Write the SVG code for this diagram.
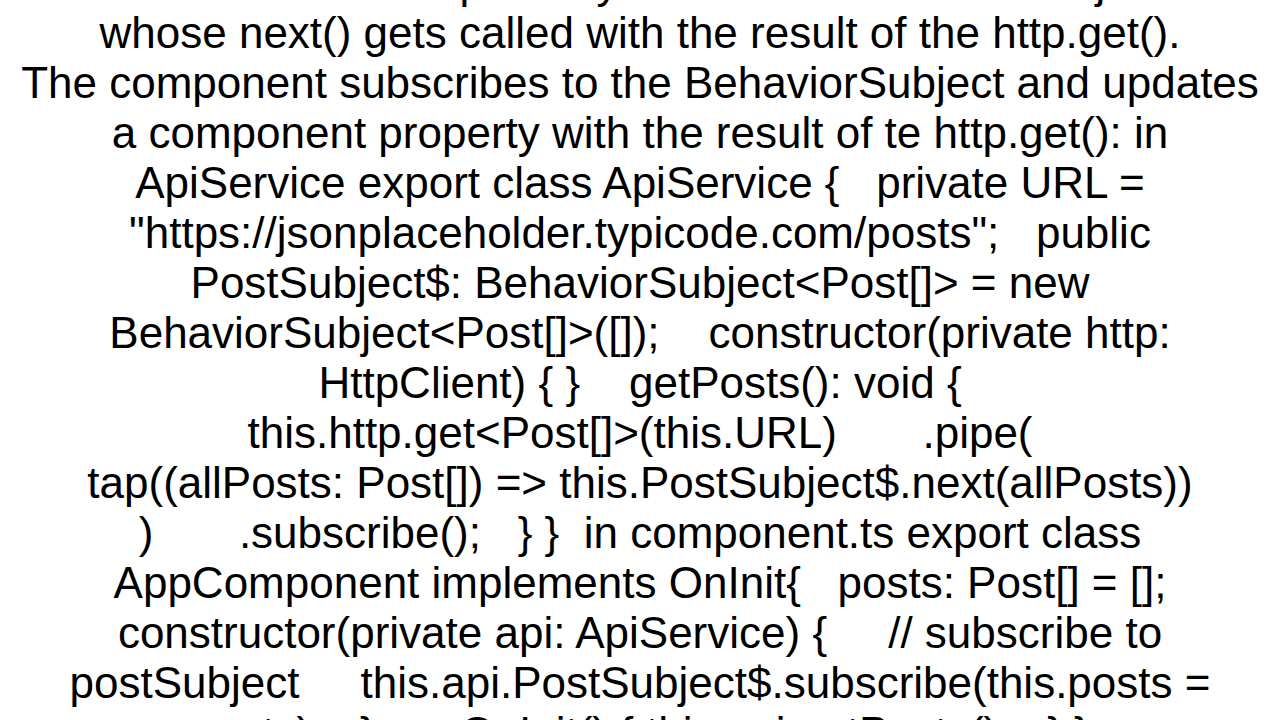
<svg xmlns="http://www.w3.org/2000/svg" width="1280" height="720" viewBox="0 0 1280 720"><style>text{font-family:"Liberation Sans",Arial,sans-serif;font-size:44px;fill:#000;text-anchor:middle;white-space:pre}</style><rect width="1280" height="720" fill="#fff"/><g id="text"><text x="640" y="-2">The other one I'd possibly is to use a BehaviorSubject</text><text x="640" y="48">whose next() gets called with the result of the http.get().</text><text x="640" y="98">The component subscribes to the BehaviorSubject and updates</text><text x="640" y="148">a component property with the result of te http.get(): in</text><text x="640" y="198">ApiService export class ApiService {   private URL =</text><text x="640" y="248">"https://jsonplaceholder.typicode.com/posts";   public</text><text x="640" y="298">PostSubject$: BehaviorSubject&lt;Post[]&gt; = new</text><text x="640" y="348">BehaviorSubject&lt;Post[]&gt;([]);    constructor(private http:</text><text x="640" y="398">HttpClient) { }    getPosts(): void {</text><text x="640" y="448">this.http.get&lt;Post[]&gt;(this.URL)       .pipe(</text><text x="640" y="498">tap((allPosts: Post[]) =&gt; this.PostSubject$.next(allPosts))</text><text x="640" y="548">)       .subscribe();   } }  in component.ts export class</text><text x="640" y="598">AppComponent implements OnInit{   posts: Post[] = [];</text><text x="640" y="648">constructor(private api: ApiService) {     // subscribe to</text><text x="640" y="698">postSubject     this.api.PostSubject$.subscribe(this.posts =</text><text x="640" y="748">posts);   }   ngOnInit() { this.api.getPosts();   } }</text></g></svg>
